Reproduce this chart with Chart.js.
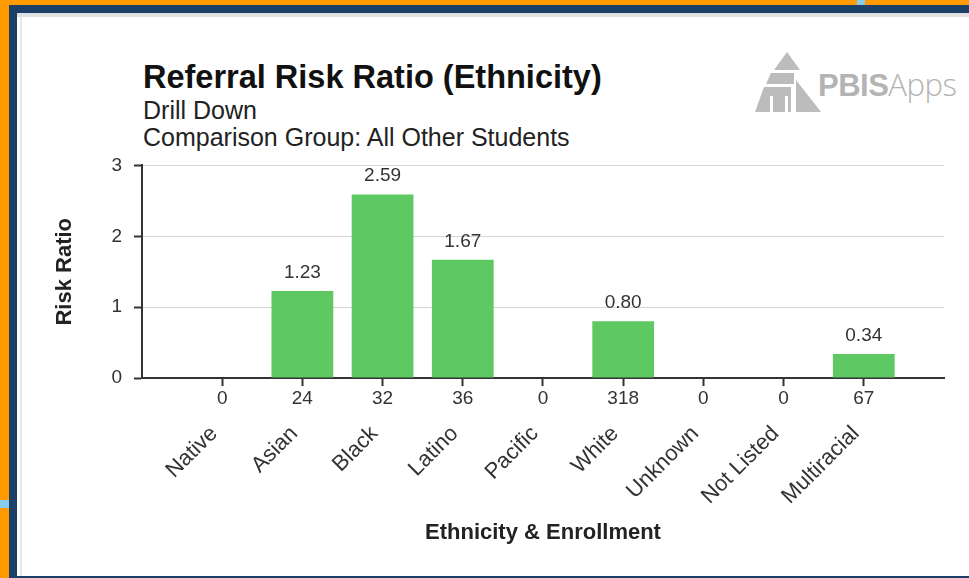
<!DOCTYPE html>
<html>
<head>
<meta charset="utf-8">
<script src="https://cdn.jsdelivr.net/npm/chart.js@4.4.0/dist/chart.umd.min.js"></script>
<style>
  html, body { margin: 0; padding: 0; }
  body { width: 969px; height: 578px; position: relative; overflow: hidden; background: #ff9a00; font-family: 'Liberation Sans', Arial, sans-serif; }
  .abs { position: absolute; }
  #navy { left: 9px; top: 5px; right: 0; bottom: 0; background: #1d4068; }
  #panel { left: 17px; top: 13px; width: 952px; height: 563px; background: #fff; }
  #topStrip { left: 17px; top: 13px; width: 952px; height: 4px; background: #e0e0e0; }
  #leftLine { left: 20px; top: 17px; width: 2px; height: 559px; background: #e8e8e8; }
  .accent { background: #86cdee; }
  #title { left: 143px; top: 59px; font-size: 32.5px; line-height: 36px; font-weight: bold; color: #111; white-space: nowrap; }
  #subtitle { left: 143px; top: 97px; font-size: 25px; line-height: 27px; color: #222; white-space: nowrap; }
  #logoText { left: 818px; top: 66px; font-size: 31px; line-height: 36px; color: #b4b4b4; white-space: nowrap; letter-spacing: -0.5px; }
  #logoText b { font-weight: bold; }
  #logoText span { font-family: 'Open Sans', 'Liberation Sans', sans-serif; font-weight: 300; }
  #chartBox { left: 22px; top: 142px; width: 947px; height: 434px; }
</style>
</head>
<body>
<div class="abs" id="navy"></div>
<div class="abs accent" style="left:857px;top:0;width:8px;height:5px"></div>
<div class="abs accent" style="left:0;top:500px;width:9px;height:8px"></div>
<div class="abs" id="panel"></div>
<div class="abs" id="topStrip"></div>
<div class="abs" id="leftLine"></div>

<div class="abs" id="title">Referral Risk Ratio (Ethnicity)</div>
<div class="abs" id="subtitle">Drill Down<br>Comparison Group: All Other Students</div>

<svg class="abs" style="left:0;top:0" width="969" height="150">
  <g fill="#bcbcbc">
    <polygon points="787,52 800,70 774,70"/>
    <polygon points="771,73 794,73 794,84 766,84"/>
    <polygon points="764,87 791,87 791,112 755,112"/>
    <polygon points="796,80 821,112 796,112"/>
  </g>
  <g fill="#fff">
    <rect x="770" y="96" width="3" height="16"/>
    <rect x="785" y="96" width="3" height="16"/>
  </g>
</svg>
<div class="abs" id="logoText"><b>PBIS</b><span>Apps</span></div>

<div class="abs" id="chartBox"><canvas id="riskChart"></canvas></div>

<script>
// 차트 데이터
const ethnicities = ['Native', 'Asian', 'Black', 'Latino', 'Pacific', 'White', 'Unknown', 'Not Listed', 'Multiracial'];
const enrollment = [0, 24, 32, 36, 0, 318, 0, 0, 67];
const riskRatios = [0, 1.23, 2.59, 1.67, 0, 0.80, 0, 0, 0.34];
const riskTicks = [0, 1, 2, 3];

const fontFamily = "'Liberation Sans', Arial, sans-serif";

// 축 양 끝에 빈 칸을 하나씩 둔다 (원본처럼 막대가 축에서 한 칸 떨어져 시작)
const countLabels = [''].concat(enrollment.map(String), ['']);
const nameLabels = [''].concat(ethnicities, ['']);
const barValues = [null].concat(riskRatios, [null]);
const lastIndex = countLabels.length - 1;

// 막대 위 값 표시
const valueLabels = {
    id: 'valueLabels',
    afterDatasetsDraw(chart) {
        const ctx = chart.ctx;
        const meta = chart.getDatasetMeta(0);
        ctx.save();
        ctx.font = '19px ' + fontFamily;
        ctx.fillStyle = '#333';
        ctx.textAlign = 'center';
        ctx.textBaseline = 'alphabetic';
        meta.data.forEach((bar, i) => {
            const v = barValues[i];
            if (v === null || v === 0) return;
            ctx.fillText(v.toFixed(2), bar.x, bar.y - 13);
        });
        ctx.restore();
    }
};

const ctx = document.getElementById('riskChart').getContext('2d');
window.riskChart = new Chart(ctx, {
    type: 'bar',
    data: {
        labels: countLabels,
        datasets: [{
            label: 'Risk Ratio',
            data: barValues,
            backgroundColor: '#5ec862',
            borderWidth: 0,
            barPercentage: 0.77,
            categoryPercentage: 1
        }]
    },
    options: {
        responsive: true,
        maintainAspectRatio: false,
        animation: false,
        layout: {
            padding: { left: 20, right: 25, top: 4, bottom: 30 }
        },
        plugins: {
            legend: { display: false },
            tooltip: { enabled: false }
        },
        scales: {
            x: {
                type: 'category',
                offset: false,
                weight: 0,
                grid: {
                    display: true,
                    offset: false,
                    drawOnChartArea: false,
                    drawTicks: true,
                    tickLength: 8,
                    tickWidth: 2,
                    tickColor: c => (c.index === 0 || c.index === lastIndex) ? 'rgba(0,0,0,0)' : '#333'
                },
                border: { color: '#333', width: 2 },
                ticks: {
                    autoSkip: false,
                    maxRotation: 0,
                    minRotation: 0,
                    padding: 1,
                    color: '#333',
                    font: { family: fontFamily, size: 19 }
                }
            },
            x2: {
                type: 'category',
                position: 'bottom',
                labels: nameLabels,
                offset: false,
                weight: 1,
                grid: { display: false, drawTicks: false },
                border: { display: false },
                afterFit: scale => {
                    // 회전 라벨 아래 빈 공간 줄이기, 오른쪽 여백은 layout padding 으로
                    scale.height = scale.height - 12;
                    scale.paddingRight = 0;
                },
                ticks: {
                    autoSkip: false,
                    maxRotation: 45,
                    minRotation: 45,
                    padding: 10,
                    labelOffset: -8,
                    color: '#333',
                    font: { family: fontFamily, size: 22 }
                },
                title: {
                    display: true,
                    text: 'Ethnicity & Enrollment',
                    color: '#222',
                    font: { family: fontFamily, size: 22, weight: 'bold' },
                    padding: { top: 12, bottom: 0 }
                }
            },
            y: {
                min: 0,
                max: 3,
                afterBuildTicks: scale => {
                    scale.ticks = riskTicks.map(v => ({ value: v }));
                },
                grid: {
                    color: '#d6d6d6',
                    lineWidth: 1,
                    tickColor: '#333',
                    tickLength: 8,
                    tickWidth: 2
                },
                border: { color: '#333', width: 2 },
                ticks: {
                    padding: 12,
                    color: '#333',
                    font: { family: fontFamily, size: 19 }
                },
                title: {
                    display: true,
                    text: 'Risk Ratio',
                    color: '#222',
                    font: { family: fontFamily, size: 22, weight: 'bold' },
                    padding: { top: 10, bottom: 21 }
                }
            }
        }
    },
    plugins: [valueLabels]
});
</script>
</body>
</html>
